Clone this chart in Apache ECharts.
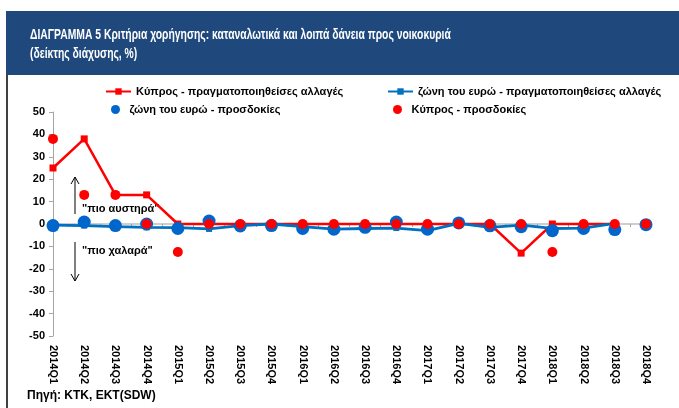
<!DOCTYPE html>
<html>
<head>
<meta charset="utf-8">
<script src="https://cdn.jsdelivr.net/npm/echarts@6/dist/echarts.min.js"></script>
<style>
  html, body { margin: 0; padding: 0; background: #fff; }
  #chart { width: 679px; height: 408px; }
</style>
</head>
<body>
<div id="chart"></div>
<script>
var quarters = ['2014Q1', '2014Q2', '2014Q3', '2014Q4', '2015Q1', '2015Q2', '2015Q3', '2015Q4',
  '2016Q1', '2016Q2', '2016Q3', '2016Q4', '2017Q1', '2017Q2', '2017Q3', '2017Q4',
  '2018Q1', '2018Q2', '2018Q3', '2018Q4'];
var cyActual = [25, 38, 13, 13, 0, 0, 0, 0, 0, 0, 0, 0, 0, 0, 0, -13, 0, 0, 0, null];
var euActual = [-0.5, -0.7, -1.2, -1.5, -1.6, -2.2, -0.7, 0, -1.2, -2.3, -2, -1.8, -3, 0.3, -1.5, -0.5, -2, -1.8, 0.3, null];
var euExpect = [-0.7, 0.9, -0.7, 0, -2, 1.3, -0.9, -0.7, -2, -2.3, -1.5, 0.9, -2.3, 0.5, -0.8, -1.2, -3, -2, -2.5, -0.3];
var cyExpect = [38, 13, 13, 0, -12.5, 0, 0, 0, 0, 0, 0, 0, 0, 0, 0, 0, -12.5, 0, 0, 0];
var names = ['Κύπρος - πραγματοποιηθείσες αλλαγές', 'ζώνη του ευρώ - πραγματοποιηθείσες αλλαγές',
  'ζώνη του ευρώ - προσδοκίες', 'Κύπρος - προσδοκίες'];

var chart = echarts.init(document.getElementById('chart'));

var font = 'Liberation Sans, Arial, sans-serif';
var legendText = { color: '#000', fontWeight: 'bold', fontSize: 11, fontFamily: font };

// ticks sit halfway between the quarters, like the excel original
var midTicks = [];
for (var i = 0; i < quarters.length - 1; i++) midTicks.push(i + 0.5);

option = {
  animation: false,
  grid: { left: 53, right: 33, top: 112, bottom: 72 },
  legend: [
    { data: [names[0]], left: 105, top: 86, padding: 0, itemWidth: 25, itemHeight: 8, textStyle: legendText },
    { data: [names[1]], left: 387, top: 86, padding: 0, itemWidth: 25, itemHeight: 8, textStyle: legendText },
    { data: [names[2]], left: 111, top: 104, padding: 0, itemWidth: 18, itemHeight: 9, textStyle: legendText },
    { data: [names[3]], left: 393, top: 104, padding: 0, itemWidth: 18, itemHeight: 9, textStyle: legendText }
  ],
  xAxis: [{
    type: 'category',
    data: quarters,
    boundaryGap: false,
    axisLine: { show: false, onZero: false },
    axisTick: { show: false },
    axisLabel: { rotate: -90, margin: 9, color: '#000', fontWeight: 'bold', fontSize: 11, fontFamily: font }
  }, {
    type: 'value',
    position: 'bottom',
    min: 0,
    max: quarters.length - 1,
    axisLine: { onZero: true, lineStyle: { color: '#bfbfbf', width: 1.5 } },
    axisTick: { show: true, inside: false, length: 3, customValues: midTicks, lineStyle: { color: '#a6a6a6' } },
    axisLabel: { show: false },
    splitLine: { show: false }
  }],
  yAxis: {
    type: 'value',
    min: -50,
    max: 50,
    interval: 10,
    axisLine: { show: true, lineStyle: { color: '#a6a6a6', width: 1 } },
    axisTick: { show: true, length: 4, lineStyle: { color: '#a6a6a6' } },
    splitLine: { show: false },
    axisLabel: { margin: 8, color: '#000', fontWeight: 'bold', fontSize: 11, fontFamily: font }
  },
  series: [{
    name: names[0],
    type: 'line',
    data: cyActual,
    symbol: 'rect',
    symbolSize: 7,
    itemStyle: { color: '#ff0000' },
    lineStyle: { color: '#ff0000', width: 2.5 },
    z: 2
  }, {
    name: names[1],
    type: 'line',
    data: euActual,
    symbol: 'rect',
    symbolSize: 6,
    itemStyle: { color: '#0070c0' },
    lineStyle: { color: '#0070c0', width: 2.8 },
    z: 3
  }, {
    name: names[2],
    type: 'scatter',
    data: euExpect,
    symbolSize: 13,
    itemStyle: { color: '#0066cc', opacity: 1 },
    z: 4
  }, {
    name: names[3],
    type: 'scatter',
    data: cyExpect,
    symbolSize: 10,
    itemStyle: { color: '#ff0000', opacity: 1 },
    z: 5
  }],
  graphic: [
    { type: 'rect', left: 6, top: 11, shape: { width: 673, height: 64 }, style: { fill: '#1f497d' } },
    { type: 'text', left: 30, top: 26, scaleX: 0.74, style: { text: 'ΔΙΑΓΡΑΜΜΑ 5 Κριτήρια χορήγησης: καταναλωτικά και λοιπά δάνεια προς νοικοκυριά\n(δείκτης διάχυσης, %)',
      fill: '#fff', font: 'bold 14px ' + font, lineHeight: 19 } },
    { type: 'line', shape: { x1: 7, y1: 75, x2: 7, y2: 408 }, style: { stroke: '#000', lineWidth: 1.5 } },
    // arrows
    { type: 'line', shape: { x1: 75, y1: 214, x2: 75, y2: 177 }, style: { stroke: '#000', lineWidth: 1 } },
    { type: 'polyline', shape: { points: [[71, 184], [75, 177], [79, 184]] }, style: { stroke: '#000', fill: null, lineWidth: 1 } },
    { type: 'line', shape: { x1: 75, y1: 242, x2: 75, y2: 281 }, style: { stroke: '#000', lineWidth: 1 } },
    { type: 'polyline', shape: { points: [[71, 274], [75, 281], [79, 274]] }, style: { stroke: '#000', fill: null, lineWidth: 1 } },
    { type: 'text', left: 82, top: 203, style: { text: '"πιο αυστηρά"', fill: '#000', font: 'bold 11px ' + font } },
    { type: 'text', left: 82, top: 245, style: { text: '"πιο χαλαρά"', fill: '#000', font: 'bold 11px ' + font } },
    { type: 'text', left: 27, top: 390, style: { text: 'Πηγή: ΚΤΚ, ΕΚΤ(SDW)', fill: '#000', font: 'bold 12px ' + font } }
  ]
};

chart.setOption(option);
</script>
</body>
</html>
